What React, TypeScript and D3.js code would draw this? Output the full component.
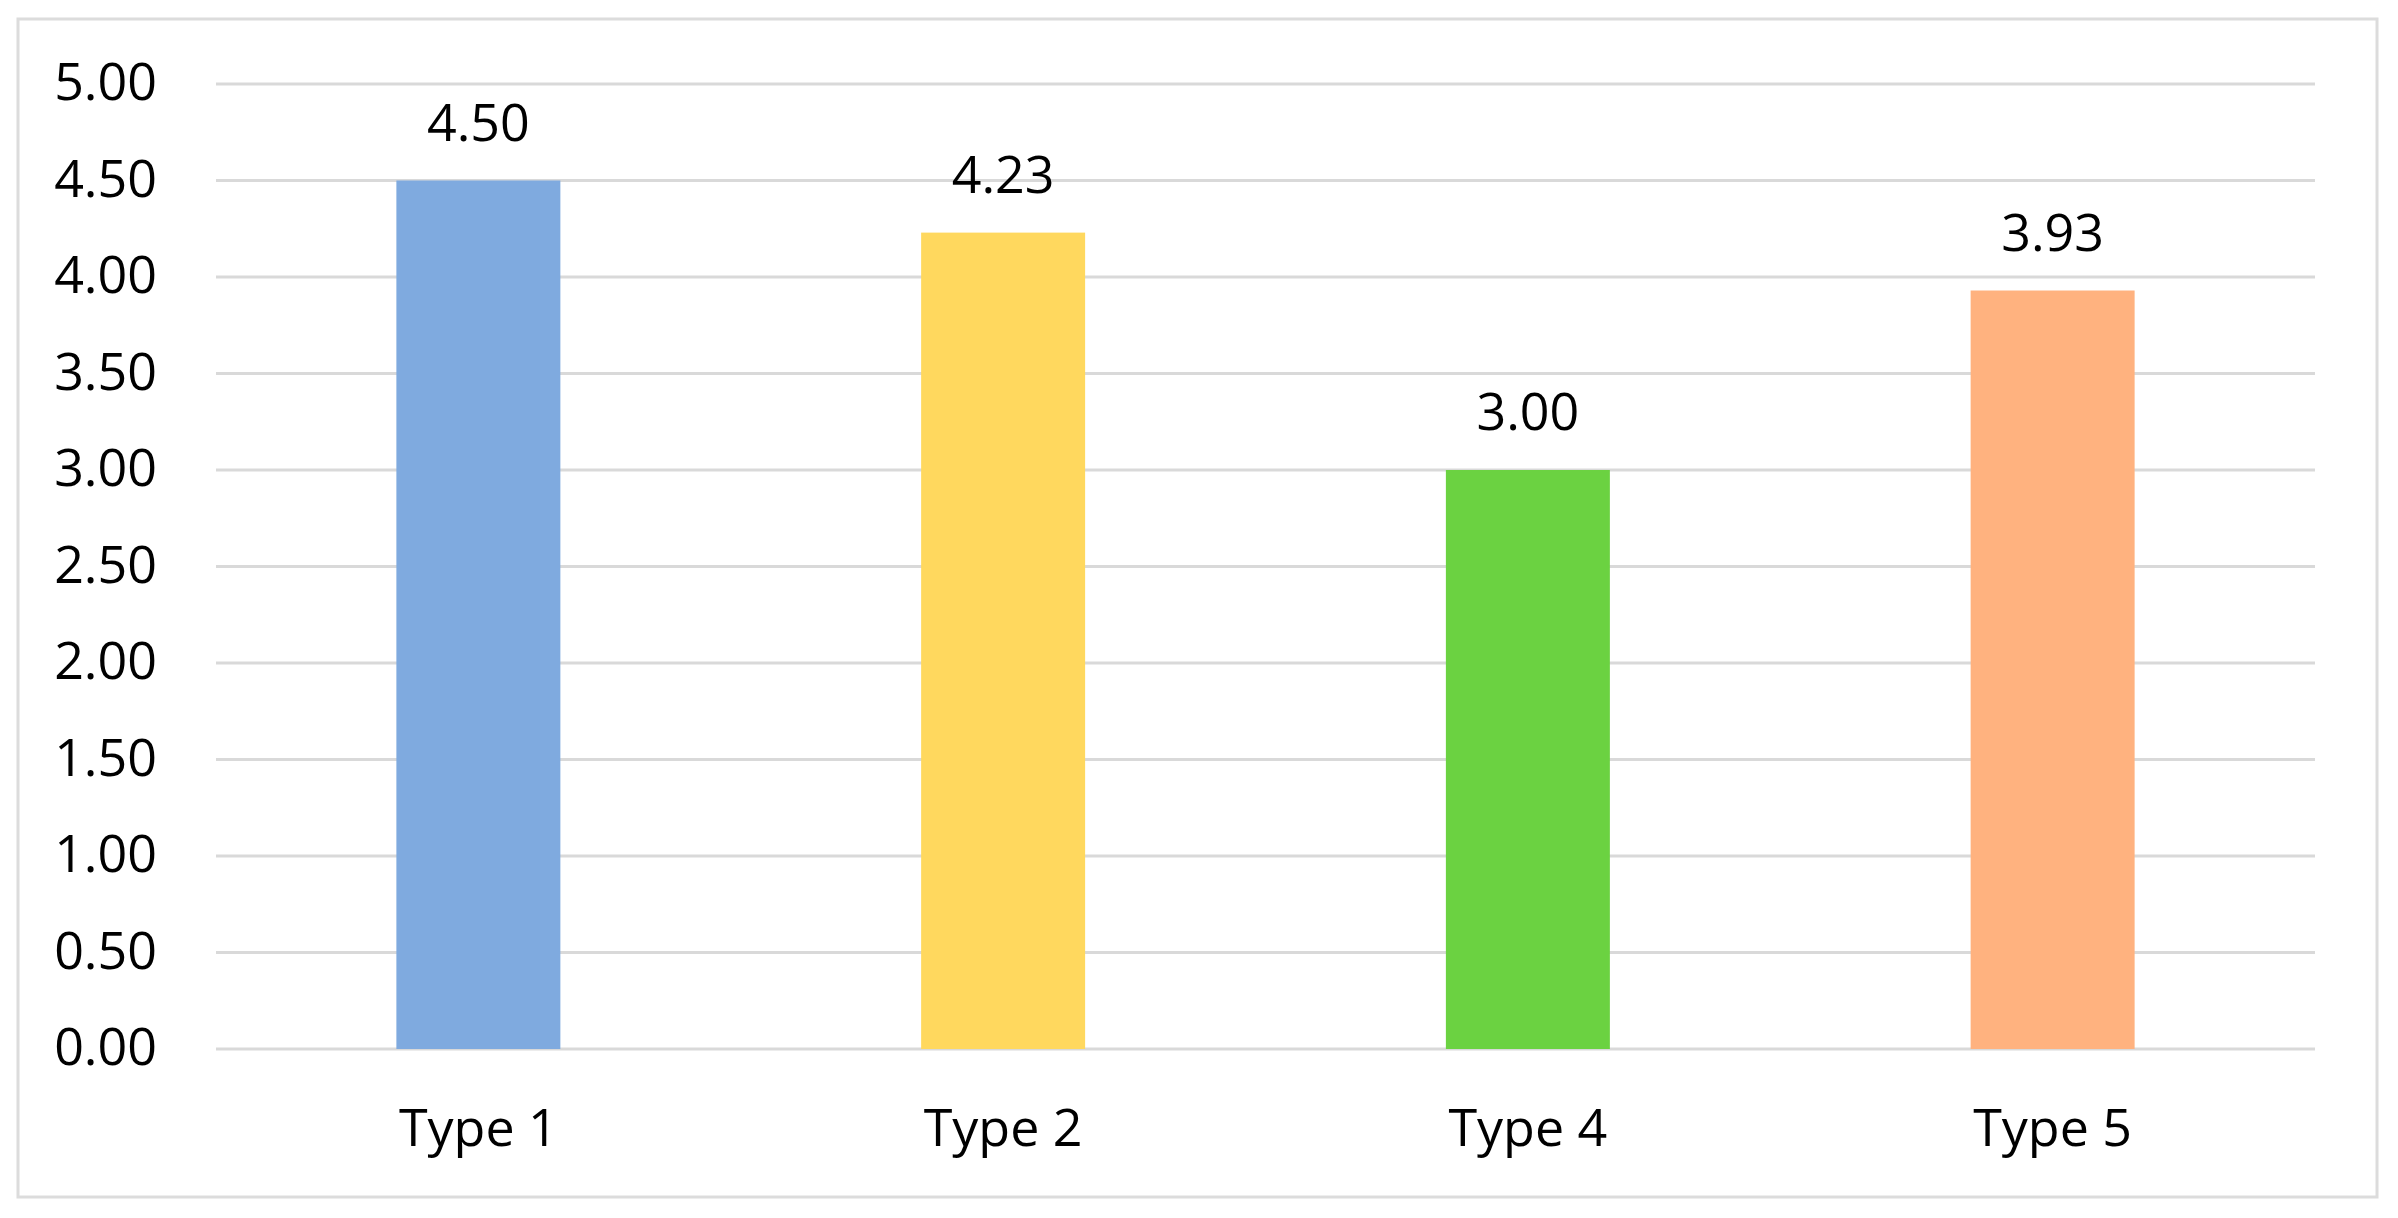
import React from "react";
import * as d3 from "d3";

const categories: string[] = ["Type 1", "Type 2", "Type 4", "Type 5"];
const values: number[] = [4.5, 4.23, 3.0, 3.93];
const barColors: string[] = ["#7FAADF", "#FFD85E", "#6BD241", "#FFB27F"];
const yTicks: number[] = [0, 0.5, 1, 1.5, 2, 2.5, 3, 3.5, 4, 4.5, 5];

const W = 2398;
const H = 1218;
const FONT = "'Open Sans', 'Noto Sans', sans-serif";

export default function App() {
  const x = d3
    .scaleBand<string>()
    .domain(categories)
    .range([216, 2315])
    .paddingInner(0.6875)
    .paddingOuter(0.34375);
  const y = d3.scaleLinear().domain([0, 5]).range([1049, 84]);
  const fmt = d3.format(".2f");

  return (
    <svg
      width={W}
      height={H}
      style={{ position: "absolute", left: 0, top: 0, display: "block", background: "#fff" }}
    >
      <rect x={0} y={0} width={W} height={H} fill="#ffffff" />
      <rect
        x={18}
        y={19}
        width={2377 - 18}
        height={1197 - 19}
        fill="#ffffff"
        stroke="#DCDCDC"
        strokeWidth={3}
      />
      {yTicks.map((t) => (
        <g key={t}>
          <line x1={216} x2={2315} y1={y(t)} y2={y(t)} stroke="#D9D9D9" strokeWidth={3} />
          <text
            x={157}
            y={y(t) + 16}
            textAnchor="end"
            fontFamily={FONT}
            fontSize={52}
            fill="#000"
          >
            {fmt(t)}
          </text>
        </g>
      ))}
      {categories.map((c, i) => {
        const bx = x(c) as number;
        const bw = x.bandwidth();
        const cx = bx + bw / 2;
        return (
          <g key={c}>
            <rect x={bx} y={y(values[i])} width={bw} height={y(0) - y(values[i])} fill={barColors[i]} />
            <text
              x={cx}
              y={y(values[i]) - 40}
              textAnchor="middle"
              fontFamily={FONT}
              fontSize={52}
              fill="#000"
            >
              {fmt(values[i])}
            </text>
            <text x={cx} y={1146} textAnchor="middle" fontFamily={FONT} fontSize={52} fill="#000">
              {c}
            </text>
          </g>
        );
      })}
    </svg>
  );
}
